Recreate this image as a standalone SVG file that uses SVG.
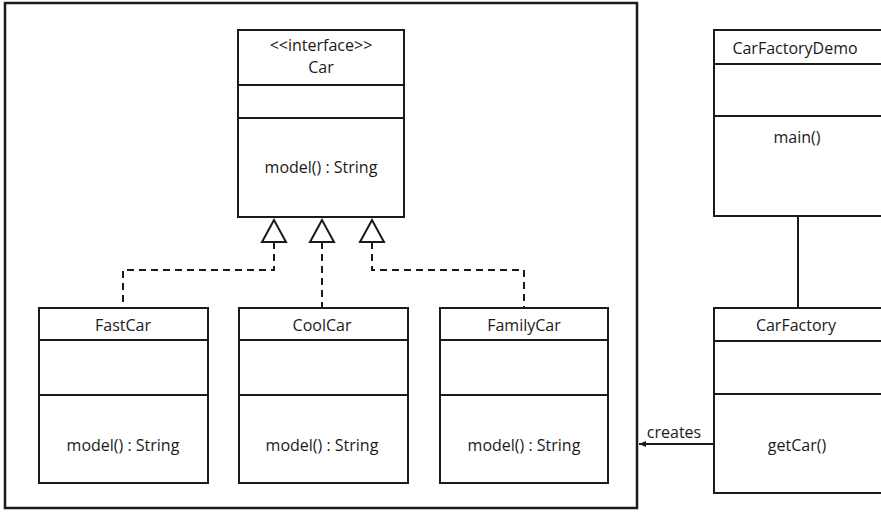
<svg xmlns="http://www.w3.org/2000/svg" width="881" height="519" viewBox="0 0 881 519">
  <style>
    .box { fill: #ffffff; stroke: #1a1a1a; stroke-width: 2; }
    .div { stroke: #1a1a1a; stroke-width: 2; }
    .lbl { font-family: "Open Sans", "Liberation Sans", sans-serif; font-size: 16px; fill: #1a1a1a; text-anchor: middle; }
    .dash { fill: none; stroke: #1a1a1a; stroke-width: 2; stroke-dasharray: 7 5; }
    .solid { fill: none; stroke: #1a1a1a; stroke-width: 2; }
    .tri { fill: #ffffff; stroke: #1a1a1a; stroke-width: 2; stroke-linejoin: miter; }
  </style>
  <defs>
    <marker id="arrow" markerWidth="8" markerHeight="8" refX="7" refY="4" orient="auto" markerUnits="userSpaceOnUse">
      <path d="M0,1 L7,4 L0,7 Z" fill="#1a1a1a"/>
    </marker>
  </defs>
  <rect width="881" height="519" fill="#ffffff"/>

  <!-- package frame -->
  <rect x="5" y="3" width="632" height="505" fill="none" stroke="#1a1a1a" stroke-width="2.5"/>

  <!-- connectors -->
  <g id="connectors">
    <path class="dash" d="M274,242 V270 H123 V308"/>
    <path class="dash" d="M322,242 V308"/>
    <path class="dash" d="M372,242 V270 H524 V308"/>
    <polygon class="tri" points="274,220 262,242 286,242"/>
    <polygon class="tri" points="322,220 310,242 334,242"/>
    <polygon class="tri" points="372,220 360,242 384,242"/>
    <path class="solid" d="M798,216 V308"/>
    <path class="solid" d="M714,444 H639" marker-end="url(#arrow)"/>
    <text class="lbl" x="674" y="438">creates</text>
  </g>

  <g id="Car">
    <rect class="box" x="238" y="30" width="166" height="187"/>
    <line class="div" x1="238" y1="85" x2="404" y2="85"/>
    <line class="div" x1="238" y1="118" x2="404" y2="118"/>
    <text class="lbl" x="321" y="51">&lt;&lt;interface&gt;&gt;</text>
    <text class="lbl" x="321" y="73">Car</text>
    <text class="lbl" x="321" y="173">model() : String</text>
  </g>

  <g id="FastCar">
    <rect class="box" x="39" y="308" width="169" height="175"/>
    <line class="div" x1="39" y1="340" x2="208" y2="340"/>
    <line class="div" x1="39" y1="395" x2="208" y2="395"/>
    <text class="lbl" x="123" y="331">FastCar</text>
    <text class="lbl" x="123" y="451">model() : String</text>
  </g>

  <g id="CoolCar">
    <rect class="box" x="239" y="308" width="169" height="175"/>
    <line class="div" x1="239" y1="340" x2="408" y2="340"/>
    <line class="div" x1="239" y1="395" x2="408" y2="395"/>
    <text class="lbl" x="322" y="331">CoolCar</text>
    <text class="lbl" x="322" y="451">model() : String</text>
  </g>

  <g id="FamilyCar">
    <rect class="box" x="440" y="308" width="168" height="175"/>
    <line class="div" x1="440" y1="340" x2="608" y2="340"/>
    <line class="div" x1="440" y1="395" x2="608" y2="395"/>
    <text class="lbl" x="524" y="331">FamilyCar</text>
    <text class="lbl" x="524" y="451">model() : String</text>
  </g>

  <g id="CarFactoryDemo">
    <rect class="box" x="714" y="30" width="180" height="186"/>
    <line class="div" x1="714" y1="64" x2="894" y2="64"/>
    <line class="div" x1="714" y1="116" x2="894" y2="116"/>
    <text class="lbl" x="795" y="54">CarFactoryDemo</text>
    <text class="lbl" x="797" y="143">main()</text>
  </g>

  <g id="CarFactory">
    <rect class="box" x="714" y="308" width="180" height="185"/>
    <line class="div" x1="714" y1="341" x2="894" y2="341"/>
    <line class="div" x1="714" y1="394" x2="894" y2="394"/>
    <text class="lbl" x="796" y="331">CarFactory</text>
    <text class="lbl" x="797" y="451">getCar()</text>
  </g>
</svg>
